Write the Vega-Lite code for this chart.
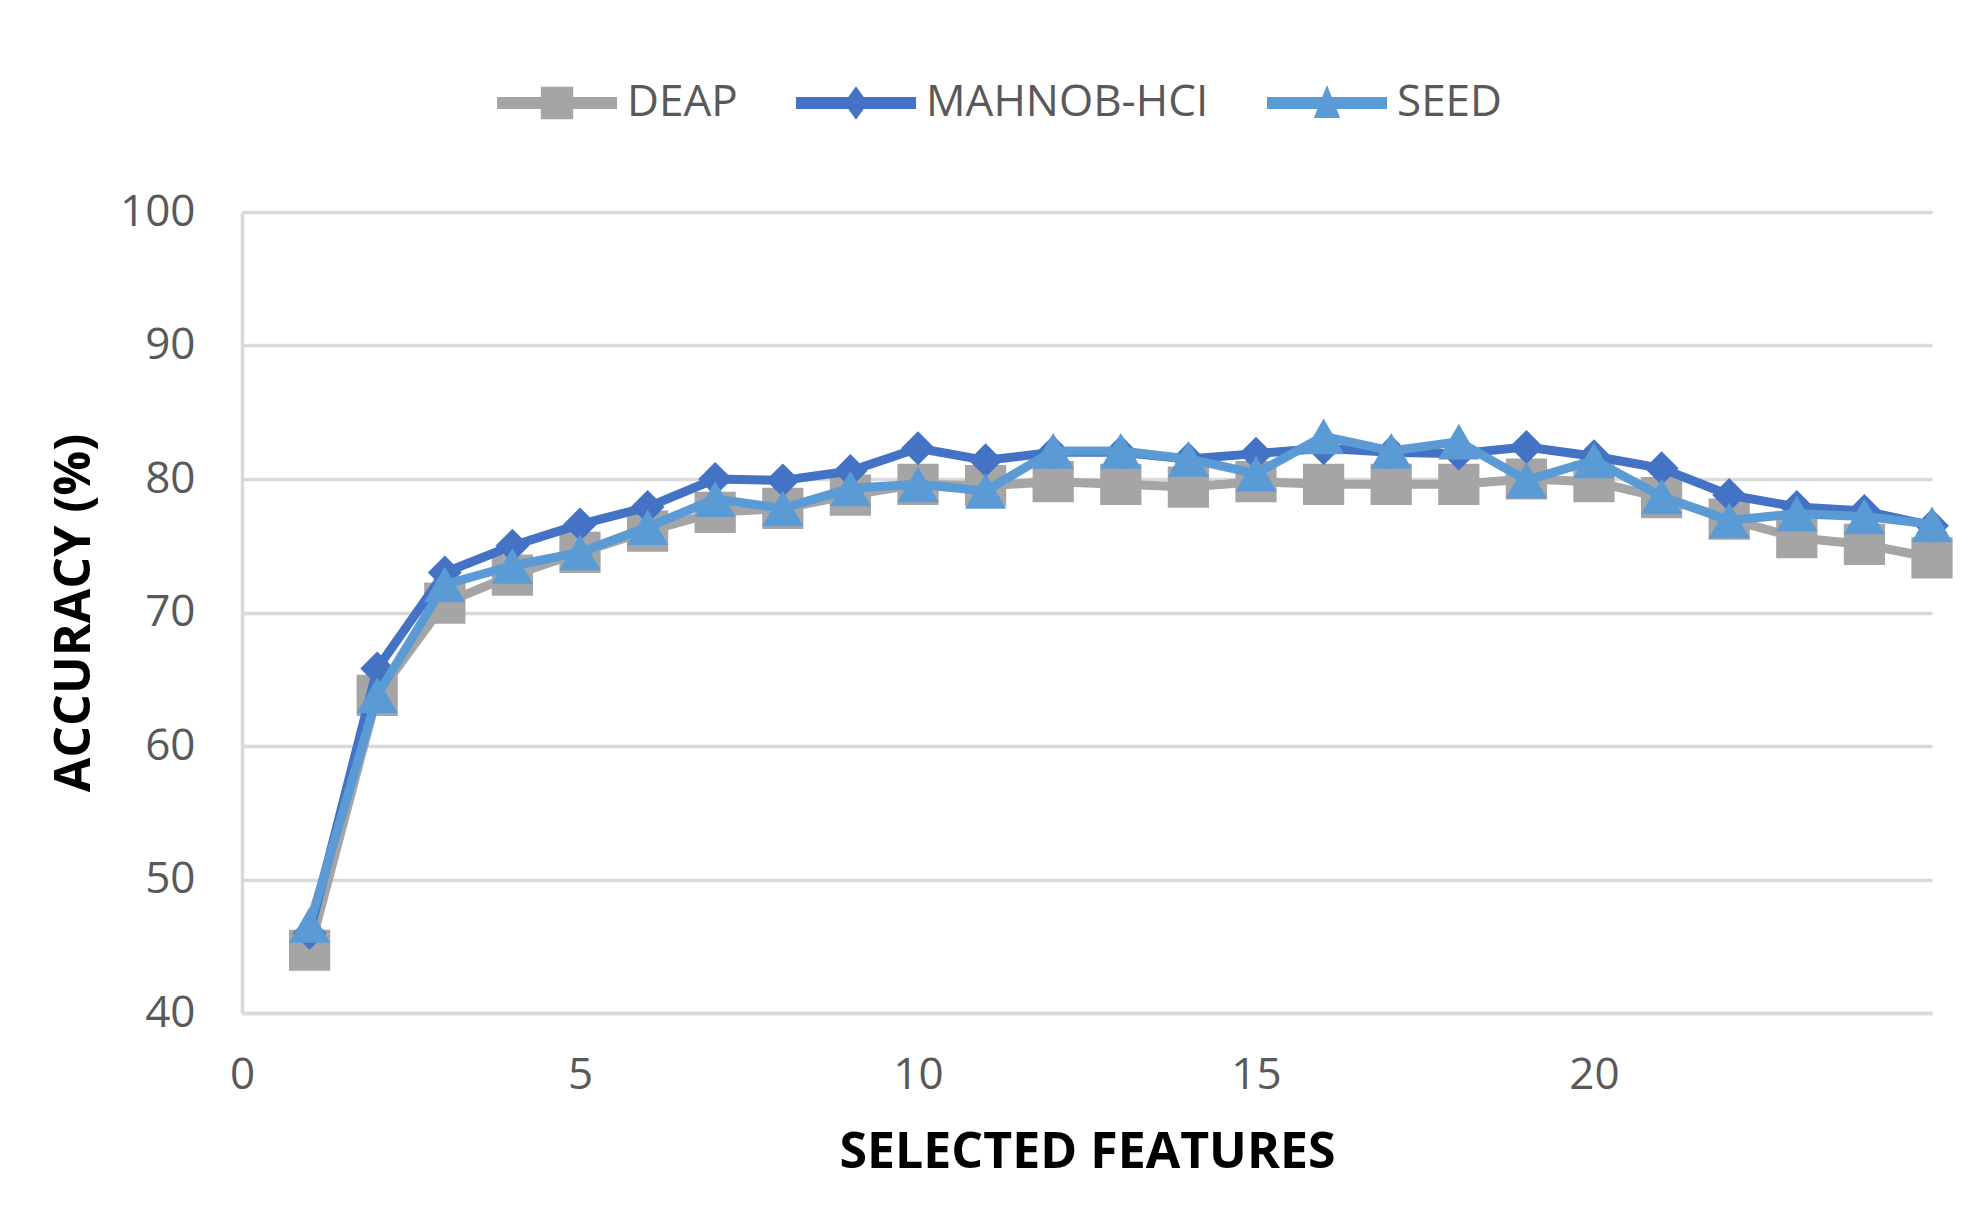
{
  "$schema": "https://vega.github.io/schema/vega-lite/v6.json",
  "width": 1690,
  "height": 801,
  "autosize": {"type": "none"},
  "padding": {"left": 242, "top": 212, "right": 48, "bottom": 200},
  "background": "white",
  "config": {"view": {"stroke": null}, "font": "Open Sans"},
  "data": {"values": [
    {"features": 1, "dataset": "DEAP", "accuracy": 44.7},
    {"features": 2, "dataset": "DEAP", "accuracy": 63.8},
    {"features": 3, "dataset": "DEAP", "accuracy": 70.7},
    {"features": 4, "dataset": "DEAP", "accuracy": 72.8},
    {"features": 5, "dataset": "DEAP", "accuracy": 74.5},
    {"features": 6, "dataset": "DEAP", "accuracy": 76.1},
    {"features": 7, "dataset": "DEAP", "accuracy": 77.5},
    {"features": 8, "dataset": "DEAP", "accuracy": 77.8},
    {"features": 9, "dataset": "DEAP", "accuracy": 78.8},
    {"features": 10, "dataset": "DEAP", "accuracy": 79.6},
    {"features": 11, "dataset": "DEAP", "accuracy": 79.5},
    {"features": 12, "dataset": "DEAP", "accuracy": 79.8},
    {"features": 13, "dataset": "DEAP", "accuracy": 79.6},
    {"features": 14, "dataset": "DEAP", "accuracy": 79.4},
    {"features": 15, "dataset": "DEAP", "accuracy": 79.8},
    {"features": 16, "dataset": "DEAP", "accuracy": 79.6},
    {"features": 17, "dataset": "DEAP", "accuracy": 79.6},
    {"features": 18, "dataset": "DEAP", "accuracy": 79.6},
    {"features": 19, "dataset": "DEAP", "accuracy": 80.0},
    {"features": 20, "dataset": "DEAP", "accuracy": 79.8},
    {"features": 21, "dataset": "DEAP", "accuracy": 78.6},
    {"features": 22, "dataset": "DEAP", "accuracy": 77.0},
    {"features": 23, "dataset": "DEAP", "accuracy": 75.6},
    {"features": 24, "dataset": "DEAP", "accuracy": 75.1},
    {"features": 25, "dataset": "DEAP", "accuracy": 74.1},
    {"features": 1, "dataset": "MAHNOB-HCI", "accuracy": 46.0},
    {"features": 2, "dataset": "MAHNOB-HCI", "accuracy": 65.8},
    {"features": 3, "dataset": "MAHNOB-HCI", "accuracy": 73.0},
    {"features": 4, "dataset": "MAHNOB-HCI", "accuracy": 75.0},
    {"features": 5, "dataset": "MAHNOB-HCI", "accuracy": 76.6},
    {"features": 6, "dataset": "MAHNOB-HCI", "accuracy": 77.9},
    {"features": 7, "dataset": "MAHNOB-HCI", "accuracy": 80.0},
    {"features": 8, "dataset": "MAHNOB-HCI", "accuracy": 79.9},
    {"features": 9, "dataset": "MAHNOB-HCI", "accuracy": 80.6},
    {"features": 10, "dataset": "MAHNOB-HCI", "accuracy": 82.3},
    {"features": 11, "dataset": "MAHNOB-HCI", "accuracy": 81.4},
    {"features": 12, "dataset": "MAHNOB-HCI", "accuracy": 82.0},
    {"features": 13, "dataset": "MAHNOB-HCI", "accuracy": 82.0},
    {"features": 14, "dataset": "MAHNOB-HCI", "accuracy": 81.5},
    {"features": 15, "dataset": "MAHNOB-HCI", "accuracy": 81.9},
    {"features": 16, "dataset": "MAHNOB-HCI", "accuracy": 82.3},
    {"features": 17, "dataset": "MAHNOB-HCI", "accuracy": 82.0},
    {"features": 18, "dataset": "MAHNOB-HCI", "accuracy": 81.9},
    {"features": 19, "dataset": "MAHNOB-HCI", "accuracy": 82.4},
    {"features": 20, "dataset": "MAHNOB-HCI", "accuracy": 81.7},
    {"features": 21, "dataset": "MAHNOB-HCI", "accuracy": 80.8},
    {"features": 22, "dataset": "MAHNOB-HCI", "accuracy": 78.8},
    {"features": 23, "dataset": "MAHNOB-HCI", "accuracy": 77.9},
    {"features": 24, "dataset": "MAHNOB-HCI", "accuracy": 77.6},
    {"features": 25, "dataset": "MAHNOB-HCI", "accuracy": 76.5},
    {"features": 1, "dataset": "SEED", "accuracy": 46.6},
    {"features": 2, "dataset": "SEED", "accuracy": 63.8},
    {"features": 3, "dataset": "SEED", "accuracy": 72.1},
    {"features": 4, "dataset": "SEED", "accuracy": 73.5},
    {"features": 5, "dataset": "SEED", "accuracy": 74.5},
    {"features": 6, "dataset": "SEED", "accuracy": 76.4},
    {"features": 7, "dataset": "SEED", "accuracy": 78.5},
    {"features": 8, "dataset": "SEED", "accuracy": 77.8},
    {"features": 9, "dataset": "SEED", "accuracy": 79.3},
    {"features": 10, "dataset": "SEED", "accuracy": 79.6},
    {"features": 11, "dataset": "SEED", "accuracy": 79.1},
    {"features": 12, "dataset": "SEED", "accuracy": 82.1},
    {"features": 13, "dataset": "SEED", "accuracy": 82.1},
    {"features": 14, "dataset": "SEED", "accuracy": 81.5},
    {"features": 15, "dataset": "SEED", "accuracy": 80.4},
    {"features": 16, "dataset": "SEED", "accuracy": 83.2},
    {"features": 17, "dataset": "SEED", "accuracy": 82.1},
    {"features": 18, "dataset": "SEED", "accuracy": 82.8},
    {"features": 19, "dataset": "SEED", "accuracy": 79.9},
    {"features": 20, "dataset": "SEED", "accuracy": 81.4},
    {"features": 21, "dataset": "SEED", "accuracy": 78.7},
    {"features": 22, "dataset": "SEED", "accuracy": 76.9},
    {"features": 23, "dataset": "SEED", "accuracy": 77.4},
    {"features": 24, "dataset": "SEED", "accuracy": 77.2},
    {"features": 25, "dataset": "SEED", "accuracy": 76.6}
  ]},
  "encoding": {
    "x": {
      "field": "features", "type": "quantitative",
      "scale": {"domain": [0, 25], "nice": false, "zero": false},
      "axis": {
        "title": "SELECTED FEATURES", "values": [0, 5, 10, 15, 20],
        "grid": false, "ticks": false,
        "domainColor": "#D9D9D9", "domainWidth": 3.5,
        "labelFontSize": 44, "labelColor": "#595959", "labelPadding": 40, "labelFlush": false,
        "labelFont": "Open Sans",
        "titleFont": "Open Sans", "titleFontSize": 50, "titleFontWeight": "bold", "titleColor": "#000000", "titlePadding": 30
      }
    },
    "y": {
      "field": "accuracy", "type": "quantitative",
      "scale": {"domain": [40, 100], "nice": false, "zero": false},
      "axis": {
        "title": "ACCURACY (%)", "values": [40, 50, 60, 70, 80, 90, 100],
        "grid": true, "gridColor": "#D9D9D9", "gridWidth": 3.5,
        "ticks": false,
        "domainColor": "#D9D9D9", "domainWidth": 3.5,
        "labelFontSize": 44, "labelColor": "#595959", "labelPadding": 47,
        "labelFont": "Open Sans",
        "titleFont": "Open Sans", "titleFontSize": 50, "titleFontWeight": "bold", "titleColor": "#000000", "titlePadding": 20
      }
    },
    "color": {
      "field": "dataset", "type": "nominal",
      "scale": {"domain": ["DEAP", "MAHNOB-HCI", "SEED"], "range": ["#A5A5A5", "#4472C4", "#5B9BD5"]},
      "legend": {
        "title": null, "orient": "none", "legendX": 255, "legendY": -169,
        "direction": "horizontal", "columns": 3, "padding": 0,
        "symbolSize": 14400, "labelFontSize": 44, "labelColor": "#595959", "labelFont": "Open Sans",
        "labelOffset": 10, "columnPadding": 58, "labelLimit": 0,
        "encode": {
          "symbols": {
            "update": {
              "shape": {"signal": "datum.value === 'DEAP' ? 'M-1,-0.1H1V0.1H-1Z M-0.27,-0.27H0.27V0.27H-0.27Z' : (datum.value === 'MAHNOB-HCI' ? 'M-1,-0.1H1V0.1H-1Z M0,-0.28L0.2,0L0,0.28L-0.2,0Z' : 'M-1,-0.1H1V0.1H-1Z M0,-0.3L0.22,0.25H-0.22Z')"},
              "fill": {"signal": "scale('color', datum.value)"},
              "stroke": {"value": "transparent"},
              "strokeWidth": {"value": 0},
              "opacity": {"value": 1},
              "fillOpacity": {"value": 1}
            }
          }
        }
      }
    }
  },
  "layer": [
    {"transform": [{"filter": "datum.dataset === 'DEAP'"}], "mark": {"type": "line", "strokeWidth": 9, "strokeJoin": "round", "strokeCap": "round"}},
    {"transform": [{"filter": "datum.dataset === 'DEAP'"}], "mark": {"type": "point", "shape": "square", "filled": true, "opacity": 1, "size": 1700}},
    {"transform": [{"filter": "datum.dataset === 'MAHNOB-HCI'"}], "mark": {"type": "line", "strokeWidth": 9, "strokeJoin": "round", "strokeCap": "round"}},
    {"transform": [{"filter": "datum.dataset === 'MAHNOB-HCI'"}], "mark": {"type": "point", "shape": "diamond", "filled": true, "opacity": 1, "size": 1150}},
    {"transform": [{"filter": "datum.dataset === 'SEED'"}], "mark": {"type": "line", "strokeWidth": 9, "strokeJoin": "round", "strokeCap": "round"}},
    {"transform": [{"filter": "datum.dataset === 'SEED'"}], "mark": {"type": "point", "shape": "triangle-up", "filled": true, "opacity": 1, "size": 1700}}
  ]
}
